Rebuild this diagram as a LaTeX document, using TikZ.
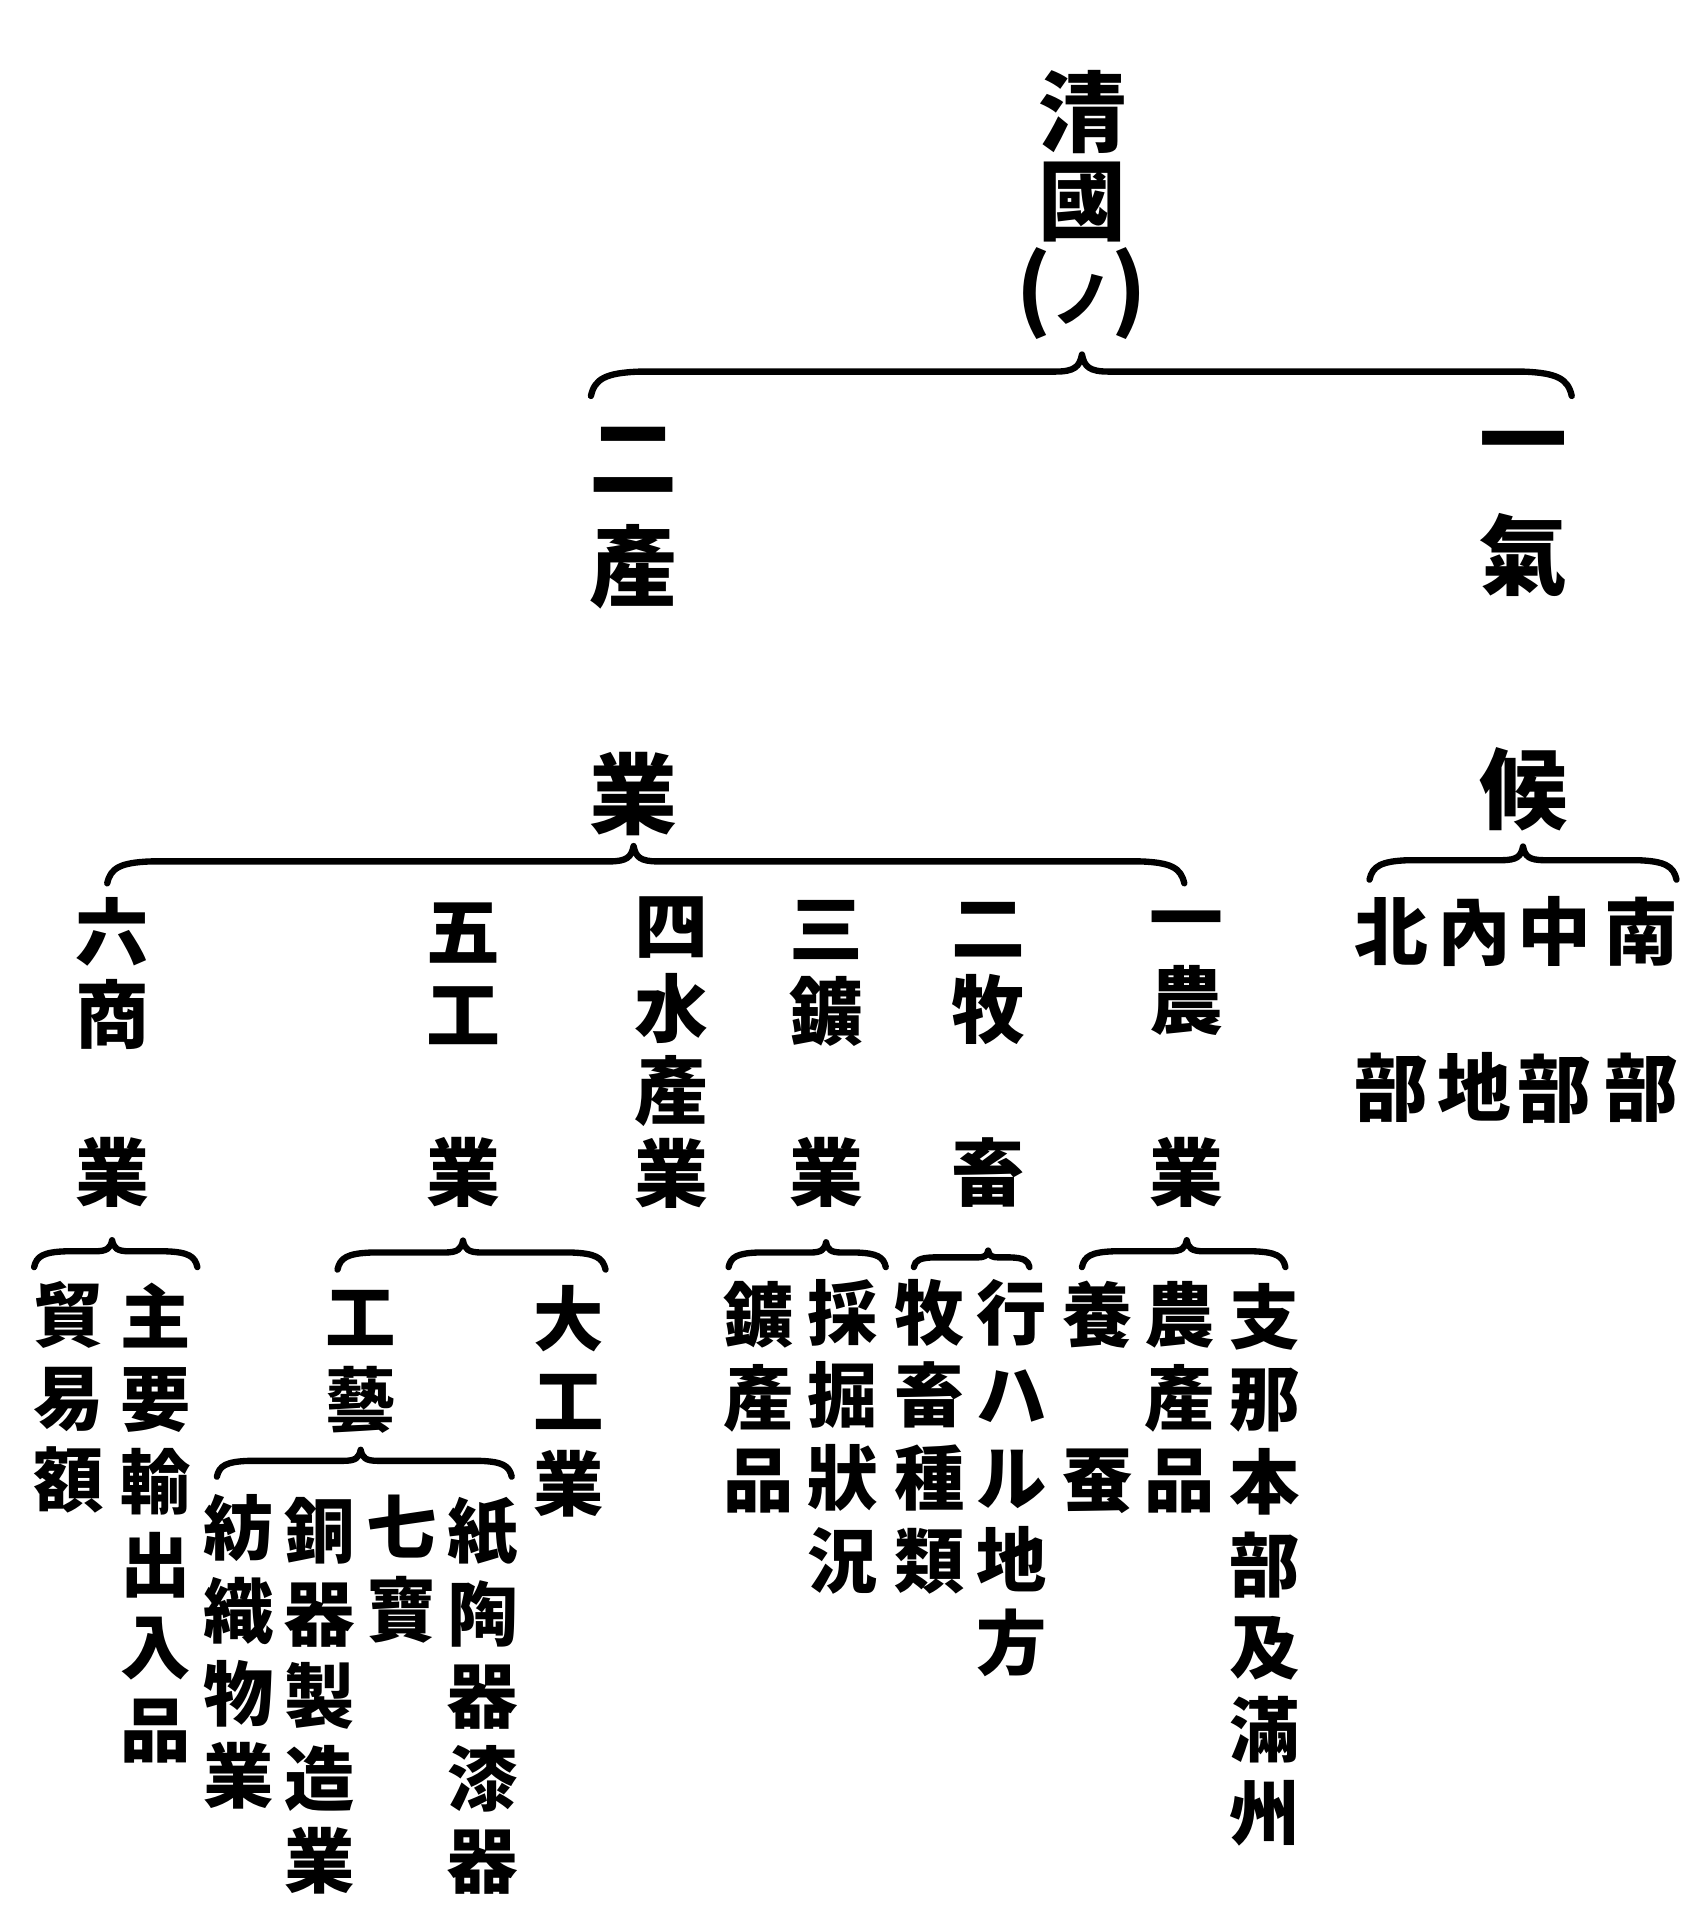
\documentclass[tikz,border=0pt]{standalone}
\usepackage{fontspec}
\newfontfamily\cjk{Noto Sans CJK JP}
\usetikzlibrary{calc}
\lineskiplimit=-100pt

\tikzset{
  dai/.style={font=\cjk\bfseries\fontsize{25}{25}\selectfont, inner sep=0pt, align=center},
  chu/.style={font=\cjk\bfseries\fontsize{21}{23.5}\selectfont, inner sep=0pt, align=center},
  sho/.style={font=\cjk\bfseries\fontsize{20}{23.5}\selectfont, inner sep=0pt, align=center},
  kakko/.style={line width=1.8pt, line cap=round, line join=round},
}

% brace: [size]{left end}{parent node}{right end}
\newcommand\kakko[4][1]{%
  \draw[kakko] (#2) .. controls ($(#2)+(3*#1,-14*#1)$) and ($(#2)+(12*#1,-19*#1)$) .. ($(#2)+(40*#1,-20*#1)$)
    -- ($(#2 -| #3)+(-22*#1,-20*#1)$) .. controls ($(#2 -| #3)+(-6*#1,-20*#1)$) and ($(#2 -| #3)+(-2*#1,-24*#1)$) .. ($(#2 -| #3)+(0,-34*#1)$)
    .. controls ($(#2 -| #3)+(2*#1,-24*#1)$) and ($(#2 -| #3)+(6*#1,-20*#1)$) .. ($(#2 -| #3)+(22*#1,-20*#1)$)
    -- ($(#4)+(-40*#1,-20*#1)$) .. controls ($(#4)+(-12*#1,-19*#1)$) and ($(#4)+(-3*#1,-14*#1)$) .. (#4);}

\begin{document}
\begin{tikzpicture}[x=0.1218mm, y=-0.1218mm]
\useasboundingbox (0,0) rectangle (1390,1566);
% top
\node[dai] (shinkoku) at (888,168) {清\\國\\({\fontsize{17}{17}\selectfont ノ})};
\node[dai] (sanL) at (520,425) {二\\[6pt]產};
\node[dai] (sangyo) at (520,652) {業};
\node[dai] (kiL) at (1250,422) {一\\[8pt]氣};
\node[dai] (kikou) at (1250,648) {候};
\coordinate (k0L) at (485,325);
\coordinate (k0R) at (1290,325);
\kakko{k0L}{shinkoku}{k0R}
% second level
\coordinate (k1L) at (88,725);
\coordinate (k1R) at (972,725);
\kakko[0.9]{k1L}{sangyo}{k1R}
\coordinate (k2L) at (1124,722);
\coordinate (k2R) at (1376,722);
\kakko[0.8]{k2L}{kikou}{k2R}
\node[chu] (hokubu) at (1142,829) {北\\[21pt]部};
\node[chu] (naichi) at (1210,829) {內\\[21pt]地};
\node[chu] (chubu) at (1276,829) {中\\[21pt]部};
\node[chu] (nanbu) at (1347,829) {南\\[21pt]部};
\node[chu] (roku) at (92,799) {六\\商};
\node[chu] (shogyo) at (92,962) {業};
\node[chu] (go) at (380,799) {五\\工};
\node[chu] (kogyo) at (380,962) {業};
\node[chu] (suisan) at (551,864) {四\\水\\產\\業};
\node[chu] (san) at (678,799) {三\\鑛};
\node[chu] (kogyo2) at (678,962) {業};
\node[chu] (boku) at (811,799) {二\\牧};
\node[chu] (chiku) at (811,962) {畜};
\node[chu] (ichi) at (974,799) {一\\農};
\node[chu] (nogyo) at (974,962) {業};
% third level
\coordinate (k3L) at (28,1040);
\coordinate (k3R) at (162,1040);
\kakko[0.65]{k3L}{shogyo}{k3R}
\coordinate (k4L) at (277,1042);
\coordinate (k4R) at (497,1042);
\kakko[0.7]{k4L}{kogyo}{k4R}
\coordinate (k5L) at (598,1040);
\coordinate (k5R) at (727,1040);
\kakko[0.6]{k5L}{kogyo2}{k5R}
\coordinate (k6L) at (750,1040);
\coordinate (k6R) at (845,1040);
\kakko[0.4]{k6L}{chiku}{k6R}
\coordinate (k7L) at (888,1040);
\coordinate (k7R) at (1055,1040);
\kakko[0.65]{k7L}{nogyo}{k7R}
\node[sho] (boeki) at (56,1147) {貿\\易\\額};
\node[sho] (yushutsu) at (128,1250) {主\\要\\輸\\出\\入\\品};
\node[sho] (kogei) at (296,1118) {工\\藝};
\node[sho] (daikogyo) at (467,1150) {大\\工\\業};
\node[sho] (kosan) at (623,1147) {鑛\\產\\品};
\node[sho] (saikutsu) at (692,1179) {採\\掘\\狀\\況};
\node[sho] (shurui) at (763,1179) {牧\\畜\\種\\類};
\node[sho] (chiho) at (830,1213) {行\\ハ\\ル\\地\\方};
\node[sho] (yosan) at (901,1147) {養\\[23.5pt]蚕};
\node[sho] (nosan) at (968,1147) {農\\產\\品};
\node[sho] (shina) at (1038,1284) {支\\那\\本\\部\\及\\滿\\州};
% fourth level
\coordinate (k8L) at (178,1212);
\coordinate (k8R) at (420,1212);
\kakko[0.65]{k8L}{kogei}{k8R}
\node[sho] (boshoku) at (196,1356) {紡\\織\\物\\業};
\node[sho] (dokisei) at (262,1392) {銅\\器\\製\\造\\業};
\node[sho] (shippo) at (330,1288) {七\\寶};
\node[sho] (shitoki) at (396,1392) {紙\\陶\\器\\漆\\器};
\end{tikzpicture}
\end{document}
